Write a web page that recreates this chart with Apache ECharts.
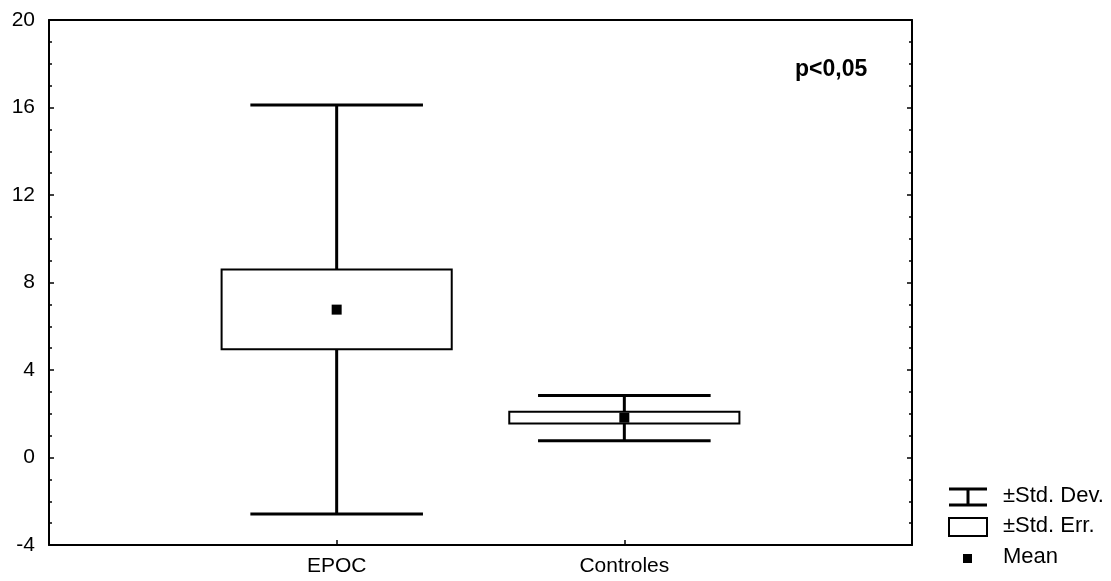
<!DOCTYPE html>
<html>
<head>
<meta charset="utf-8">
<script src="https://cdn.jsdelivr.net/npm/echarts@6/dist/echarts.min.js"></script>
<style>
  html, body { margin: 0; padding: 0; background: #fff; }
  #main { width: 1111px; height: 581px; }
</style>
</head>
<body>
<div id="main"></div>
<script>
var categories = ['EPOC', 'Controles'];
var means = [6.76, 1.82];
var seLow = [4.95, 1.56];
var seHigh = [8.60, 2.09];
var sdLow = [-2.58, 0.77];
var sdHigh = [16.11, 2.83];
var yTicks = [-4, 0, 4, 8, 12, 16, 20];

var FONT = 'Liberation Sans, Arial, sans-serif';
var chart = echarts.init(document.getElementById('main'));

var data = [];
for (var i = 0; i < categories.length; i++) {
    data.push([i + 1, means[i], seLow[i], seHigh[i], sdLow[i], sdHigh[i]]);
}

function renderItem(params, api) {
    var x = api.value(0);
    var boxHalf = 0.4, capHalf = 0.3;
    var pMean = api.coord([x, api.value(1)]);
    var pSeLo = api.coord([x - boxHalf, api.value(2)]);
    var pSeHi = api.coord([x + boxHalf, api.value(3)]);
    var pSdLo = api.coord([x, api.value(4)]);
    var pSdHi = api.coord([x, api.value(5)]);
    var capL = api.coord([x - capHalf, 0])[0];
    var capR = api.coord([x + capHalf, 0])[0];
    var lineStyle = { stroke: '#000', lineWidth: 3 };
    return {
        type: 'group',
        children: [
            { type: 'line', shape: { x1: pSdLo[0], y1: pSdLo[1], x2: pSdHi[0], y2: pSdHi[1] }, style: lineStyle },
            { type: 'line', shape: { x1: capL, y1: pSdHi[1], x2: capR, y2: pSdHi[1] }, style: lineStyle },
            { type: 'line', shape: { x1: capL, y1: pSdLo[1], x2: capR, y2: pSdLo[1] }, style: lineStyle },
            {
                type: 'rect',
                shape: { x: pSeLo[0], y: pSeHi[1], width: pSeHi[0] - pSeLo[0], height: pSeLo[1] - pSeHi[1] },
                style: { fill: '#fff', stroke: '#000', lineWidth: 2 }
            },
            { type: 'rect', shape: { x: pMean[0] - 5, y: pMean[1] - 5, width: 10, height: 10 }, style: { fill: '#000' } }
        ]
    };
}

var axisLine = { show: true, onZero: false, lineStyle: { color: '#000', width: 2 } };

var option = {
    backgroundColor: '#fff',
    animation: false,
    grid: { left: 49, right: 199, top: 20, bottom: 36 },
    xAxis: [{
        type: 'value', min: 0, max: 3, interval: 1,
        axisLine: axisLine,
        axisTick: { show: true, inside: true, length: 5, lineStyle: { color: '#000', width: 1.5 } },
        axisLabel: {
            color: '#000', fontFamily: FONT, fontSize: 21, margin: 11,
            formatter: function (v) { return categories[v - 1] || ''; }
        },
        splitLine: { show: false }
    }, {
        type: 'value', position: 'top', min: 0, max: 3,
        axisLine: axisLine, axisTick: { show: false }, axisLabel: { show: false }, splitLine: { show: false }
    }],
    yAxis: [{
        type: 'value', min: yTicks[0], max: yTicks[yTicks.length - 1], interval: 4,
        axisLine: axisLine,
        axisTick: { show: true, inside: true, length: 5, lineStyle: { color: '#000', width: 1.5 } },
        minorTick: { show: true, splitNumber: 4, length: 3, lineStyle: { color: '#000', width: 1.5 } },
        axisLabel: { color: '#000', fontFamily: FONT, fontSize: 21, margin: 14 },
        splitLine: { show: false }
    }, {
        type: 'value', position: 'right', min: yTicks[0], max: yTicks[yTicks.length - 1], interval: 4,
        axisLine: axisLine,
        axisTick: { show: true, inside: true, length: 5, lineStyle: { color: '#000', width: 1.5 } },
        minorTick: { show: true, splitNumber: 4, length: 3, lineStyle: { color: '#000', width: 1.5 } },
        axisLabel: { show: false },
        splitLine: { show: false }
    }],
    series: [{
        type: 'custom',
        renderItem: renderItem,
        encode: { x: 0, y: [1, 2, 3, 4, 5] },
        data: data
    }],
    graphic: [
        { type: 'text', left: 795, top: 58, style: { text: 'p<0,05', fill: '#000', font: 'bold 23px ' + FONT } },
        // legend
        { type: 'line', shape: { x1: 949, y1: 489, x2: 987, y2: 489 }, style: { stroke: '#000', lineWidth: 3 } },
        { type: 'line', shape: { x1: 968, y1: 489, x2: 968, y2: 505 }, style: { stroke: '#000', lineWidth: 3 } },
        { type: 'line', shape: { x1: 949, y1: 505, x2: 987, y2: 505 }, style: { stroke: '#000', lineWidth: 3 } },
        { type: 'rect', shape: { x: 949, y: 518, width: 38, height: 18 }, style: { fill: '#fff', stroke: '#000', lineWidth: 2 } },
        { type: 'rect', shape: { x: 963, y: 554, width: 9, height: 9 }, style: { fill: '#000' } },
        { type: 'text', left: 1003, top: 485, style: { text: '±Std. Dev.', fill: '#000', font: '22px ' + FONT } },
        { type: 'text', left: 1003, top: 515, style: { text: '±Std. Err.', fill: '#000', font: '22px ' + FONT } },
        { type: 'text', left: 1003, top: 546, style: { text: 'Mean', fill: '#000', font: '22px ' + FONT } }
    ]
};

chart.setOption(option);
</script>
</body>
</html>
